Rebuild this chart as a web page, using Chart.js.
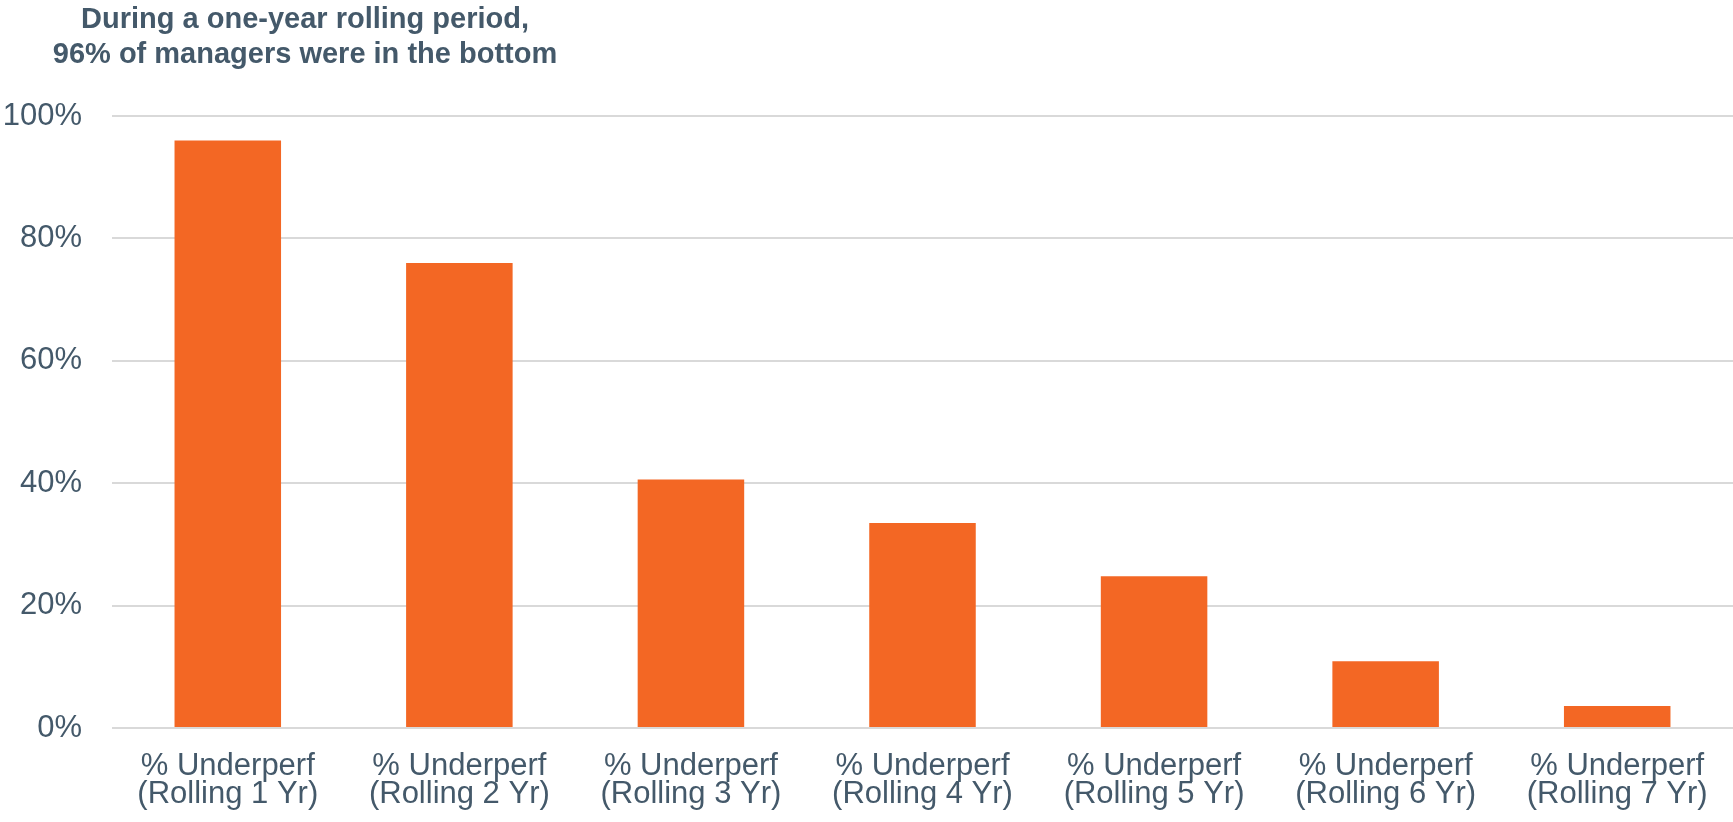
<!DOCTYPE html>
<html>
<head>
<meta charset="utf-8">
<title>Rolling underperformance</title>
<script src="https://cdn.jsdelivr.net/npm/chart.js@4/dist/chart.umd.min.js"></script>
<style>
    html, body { margin: 0; padding: 0; background: #ffffff; }
    #wrap { position: relative; width: 1733px; height: 822px; }
</style>
</head>
<body>
<div id="wrap"><canvas id="underperf-chart"></canvas></div>
<script>
const categories = [
    ['% Underperf', '(Rolling 1 Yr)'],
    ['% Underperf', '(Rolling 2 Yr)'],
    ['% Underperf', '(Rolling 3 Yr)'],
    ['% Underperf', '(Rolling 4 Yr)'],
    ['% Underperf', '(Rolling 5 Yr)'],
    ['% Underperf', '(Rolling 6 Yr)'],
    ['% Underperf', '(Rolling 7 Yr)']
];
const underperfPct = [96, 76, 40.6, 33.5, 24.8, 10.9, 3.6];
const titleLines = ['During a one-year rolling period,', '96% of managers were in the bottom'];
const yTicks = [0, 20, 40, 60, 80, 100];

const TEXT_COLOR = '#44596a';
const BAR_COLOR = '#f36724';
const FONT = '"Liberation Sans", Arial, sans-serif';

// Two-line heading, centred over the left part of the chart
const headingPlugin = {
    id: 'heading',
    afterDraw(chart) {
        const ctx = chart.ctx;
        ctx.save();
        ctx.fillStyle = TEXT_COLOR;
        ctx.font = 'bold 29px ' + FONT;
        ctx.textAlign = 'center';
        ctx.textBaseline = 'alphabetic';
        titleLines.forEach((line, i) => {
            ctx.fillText(line, 305, 27.5 + i * 35);
        });
        ctx.restore();
    }
};

new Chart(document.getElementById('underperf-chart'), {
    type: 'bar',
    data: {
        labels: categories,
        datasets: [{
            label: '% Underperf',
            data: underperfPct,
            backgroundColor: BAR_COLOR,
            borderWidth: 0,
            barPercentage: 0.46,
            categoryPercentage: 1
        }]
    },
    options: {
        responsive: true,
        maintainAspectRatio: false,
        animation: false,
        layout: {
            padding: { top: 116, left: 0, right: 0, bottom: 0 }
        },
        plugins: {
            legend: { display: false },
            title: { display: false },
            tooltip: { enabled: false }
        },
        scales: {
            x: {
                grid: { display: false, drawTicks: false },
                border: { display: false },
                ticks: {
                    color: TEXT_COLOR,
                    padding: 24,
                    maxRotation: 0,
                    autoSkip: false,
                    font: { family: FONT, size: 31, lineHeight: 0.92 }
                },
                afterFit(scale) {
                    scale.height = 94;
                }
            },
            y: {
                min: 0,
                max: 100,
                afterBuildTicks(scale) {
                    scale.ticks = yTicks.map(v => ({ value: v }));
                },
                grid: {
                    color: '#d9d9d9',
                    lineWidth: 2,
                    drawTicks: false
                },
                border: { display: false },
                ticks: {
                    color: TEXT_COLOR,
                    padding: 30,
                    font: { family: FONT, size: 31 },
                    callback: v => v + '%'
                },
                afterFit(scale) {
                    scale.width = 112;
                }
            }
        }
    },
    plugins: [headingPlugin]
});
</script>
</body>
</html>
